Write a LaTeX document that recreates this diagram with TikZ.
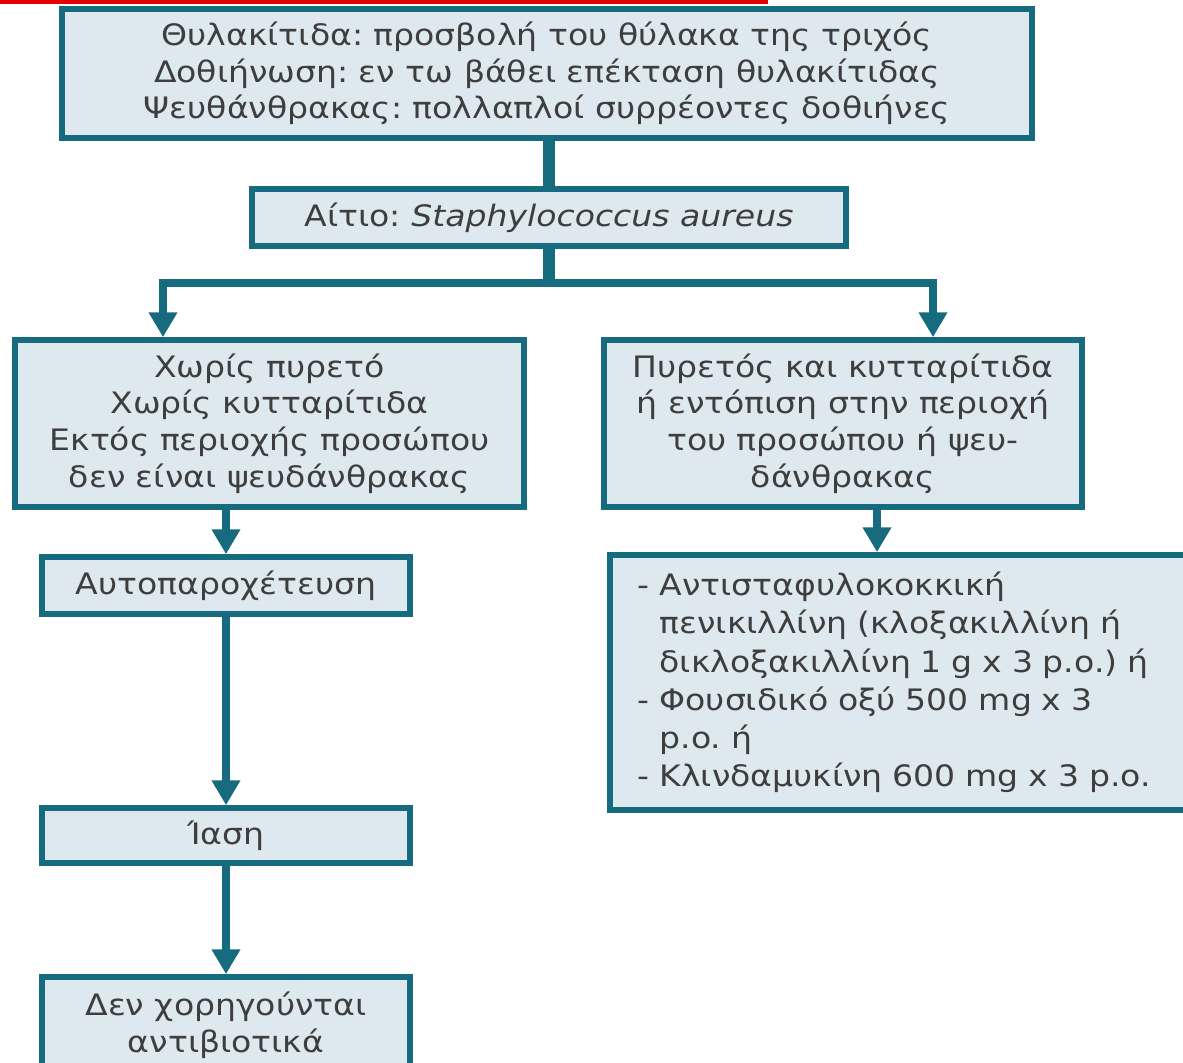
\documentclass[tikz,border=0pt]{standalone}
\usepackage{fontspec}
\setmainfont[FakeStretch=1.12]{DejaVu Sans}
\usetikzlibrary{positioning}
\usetikzlibrary{arrows.meta}
\frenchspacing

\definecolor{tealline}{RGB}{22,108,126}
\definecolor{boxfill}{RGB}{221,233,238}
\definecolor{textgray}{RGB}{62,62,62}
\definecolor{topred}{RGB}{226,0,0}

\tikzset{
  box/.style={draw=tealline, fill=boxfill, line width=4pt, text=textgray,
    align=center, inner sep=0pt, font=\fontsize{21}{26}\selectfont},
  flow/.style={draw=tealline, line width=5.5pt,
    -{Triangle[width=0.68cm,length=0.62cm]}},
  stem/.style={draw=tealline, line width=8pt},
  joint/.style={draw=tealline, line width=5pt}
}

\begin{document}
\begin{tikzpicture}[x=0.025cm,y=-0.025cm]
  \path[fill=white, use as bounding box] (0,0) rectangle (1183,1063);
  \fill[topred] (0,0) rectangle (768,4);

  \node[box, minimum width=24.25cm, minimum height=3.225cm] (lesion) at (547,73.5)
    {Θυλακίτιδα: προσβολή του θύλακα της τριχός\\
     Δοθιήνωση: εν τω βάθει επέκταση θυλακίτιδας\\
     Ψευθάνθρακας: πολλαπλοί συρρέοντες δοθιήνες};
  \node[box, minimum width=14.85cm, minimum height=1.425cm] (cause) at (549,217.5)
    {Αίτιο: \textit{Staphylococcus aureus}};

  \node[box, minimum width=12.725cm, minimum height=4.175cm] (mild) at (269.5,423.5)
    {Χωρίς πυρετό\\ Χωρίς κυτταρίτιδα\\ Εκτός περιοχής προσώπου\\ δεν είναι ψευδάνθρακας};
  \node[box, minimum width=11.95cm, minimum height=4.175cm] (severe) at (843,423.5)
    {Πυρετός και κυτταρίτιδα\\ ή εντόπιση στην περιοχή\\ του προσώπου ή ψευ-\\ δάνθρακας};

  \node[box, minimum width=9.2cm, minimum height=1.425cm] (drain) at (226,585.5)
    {Αυτοπαροχέτευση};
  \node[box, minimum width=9.2cm, minimum height=1.375cm] (cure) at (226,835.5)
    {Ίαση};
  \node[box, minimum width=9.2cm, minimum height=2.4cm] (noabx) at (226,1025)
    {Δεν χορηγούνται\\ αντιβιοτικά};

  \node[box, anchor=west, align=left, minimum width=15cm, minimum height=6.375cm,
    text width=13.6cm, inner xsep=0.7cm, font=\fontsize{21}{27.2}\selectfont] (therapy) at (607,682.5)
    {- Αντισταφυλοκοκκική\\
     \hphantom{- }πενικιλλίνη (κλοξακιλλίνη ή\\
     \hphantom{- }δικλοξακιλλίνη 1 g x 3 p.o.) ή\\
     - Φουσιδικό οξύ 500 mg x 3\\
     \hphantom{- }p.o. ή\\
     - Κλινδαμυκίνη 600 mg x 3 p.o.};

  \coordinate (split) at (549,283);
  \coordinate (lturn) at (163,283);
  \coordinate (rturn) at (933,283);
  \coordinate (rdrop) at (877,507);

  \draw[stem] (lesion.south -| cause.north) -- (cause.north);
  \draw[stem] (cause.south) -- (split);
  \draw[joint, line cap=rect] (lturn) -- (rturn);
  \draw[flow] (lturn) -- (lturn |- mild.north);
  \draw[flow] (rturn) -- (rturn |- severe.north);

  \draw[flow] (mild.south -| drain.north) -- (drain.north);
  \draw[flow] (drain) -- (cure);
  \draw[flow] (cure) -- (noabx);
  \draw[flow] (rdrop |- severe.south) -- (rdrop |- therapy.north);
\end{tikzpicture}
\end{document}
